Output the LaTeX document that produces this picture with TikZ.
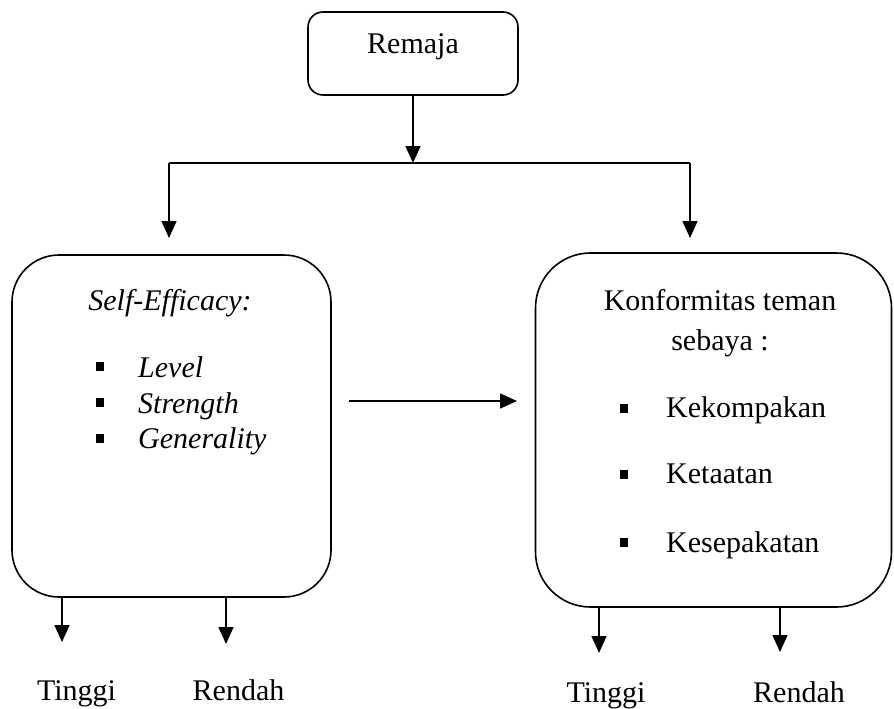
\documentclass[tikz,border=0pt]{standalone}
\usepackage{fontspec}
\setmainfont{Liberation Serif}
\usetikzlibrary{arrows.meta}
\begin{document}
\begin{tikzpicture}[x=1pt,y=-1pt,
  every node/.style={font=\fontsize{30}{36}\selectfont, inner sep=0pt},
  box/.style={draw, line width=1.6pt, rounded corners=#1},
  conn/.style={line width=1.6pt},
  arr/.style={line width=1.6pt, -{Triangle[length=17pt,width=15pt]}},
  bul/.style={fill=black, minimum width=8pt, minimum height=9pt},
  lbl/.style={anchor=base},
  item/.style={anchor=base west}]
\useasboundingbox (0,0) rectangle (894,709);
% boxes
\node[box=15pt, minimum width=210pt, minimum height=83pt] (remaja) at (413,53.5) {};
\node[lbl] (remajaT) at (413,53) {Remaja};
\node[box=47pt, minimum width=319pt, minimum height=342pt] (se) at (171.5,426) {};
\node[box=55pt, minimum width=356pt, minimum height=354pt] (kt) at (713.5,430) {};
% left contents
\node[lbl] (seT) at (170,310) {\itshape Self-Efficacy:};
\node[bul] (b1) at (100,366.5) {};
\node[item] (i1) at (138,377) {\itshape Level};
\node[bul] (b2) at (100,402.5) {};
\node[item] (i2) at (138,413) {\itshape Strength};
\node[bul] (b3) at (100,438.5) {};
\node[item] (i3) at (138,448) {\itshape Generality};
% right contents
\node[lbl] (ktT1) at (720,310) {Konformitas teman};
\node[lbl] (ktT2) at (720,350) {sebaya :};
\node[bul] (c1) at (624,408) {};
\node[item] (j1) at (666,417) {Kekompakan};
\node[bul] (c2) at (624,474) {};
\node[item] (j2) at (666,483) {Ketaatan};
\node[bul] (c3) at (624,542) {};
\node[item] (j3) at (666,552) {Kesepakatan};
% bottom labels
\node[lbl] (t1) at (76.5,700) {Tinggi};
\node[lbl] (r1) at (238.5,700) {Rendah};
\node[lbl] (t2) at (606,702) {Tinggi};
\node[lbl] (r2) at (799,702) {Rendah};
% coordinates
\coordinate (jn) at (413,163);
\coordinate (jl) at (169,163);
\coordinate (jr) at (690,163);
\coordinate (el) at (169,238);
\coordinate (er) at (690,238);
\coordinate (ms) at (349,401);
\coordinate (me) at (517,401);
\coordinate (s1) at (62,642);
\coordinate (s2) at (226,644);
\coordinate (s3) at (599,653);
\coordinate (s4) at (780,652);
% connectors
\draw[arr] (remaja.south) -- (jn);
\draw[conn] (jl) -- (jr);
\draw[arr] (jl) -- (el);
\draw[arr] (jr) -- (er);
\draw[arr] (ms) -- (me);
\draw[arr] (se.south -| s1) -- (s1);
\draw[arr] (se.south -| s2) -- (s2);
\draw[arr] (kt.south -| s3) -- (s3);
\draw[arr] (kt.south -| s4) -- (s4);
\end{tikzpicture}
\end{document}
